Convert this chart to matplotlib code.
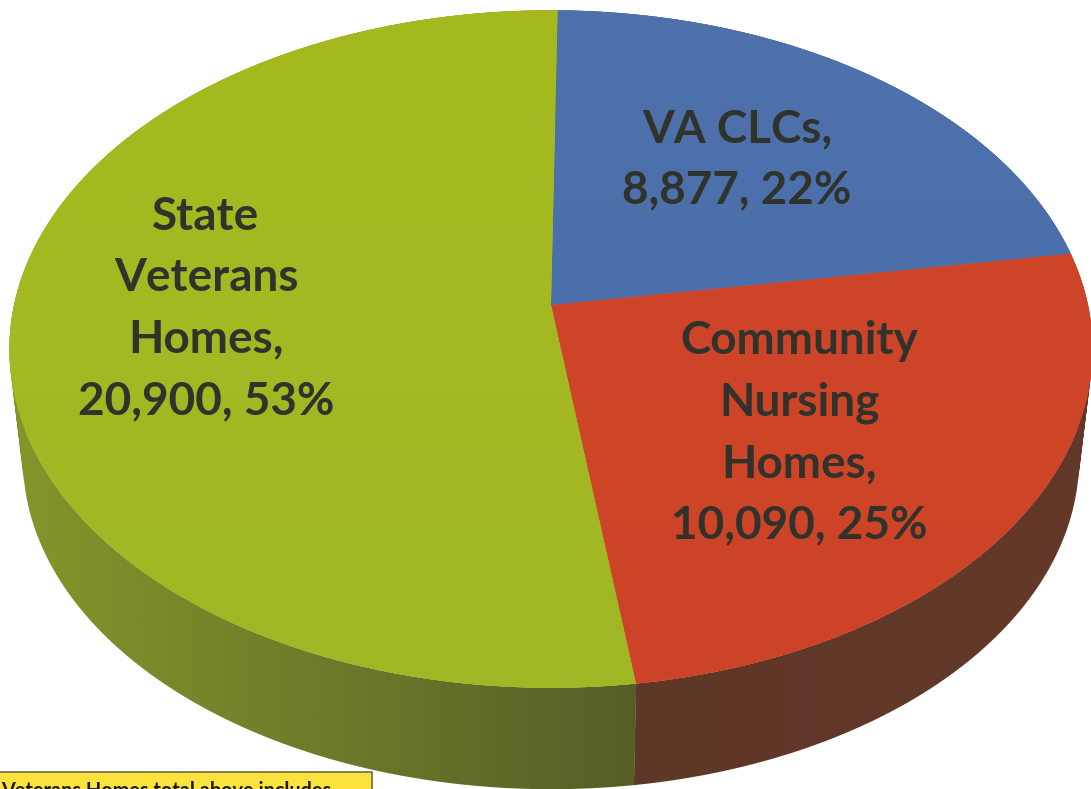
import numpy as np
import matplotlib
matplotlib.use("Agg")
import matplotlib.pyplot as plt
from matplotlib.path import Path
from matplotlib.patches import Rectangle, PathPatch
from matplotlib.transforms import Transform, Affine2D

categories = ["VA CLCs", "Community\nNursing\nHomes", "State\nVeterans\nHomes"]
counts = [8877, 10090, 20900]
percents = [22, 25, 53]
top_colors = ["#4a6ca8", "#cf4529", "#a2b620"]
note_text = "Veterans Homes total above includes"

W, H = 1091, 789
CX, CY = 551, 305          # apex in pixels
A, B, K = 537.0, 333.0, 0.13
S, DY = 0.975, 111.0       # bottom rim


def project(xy, scale=1.0, dy=0.0):
    x, y = xy[:, 0], xy[:, 1]
    d = 1 + K * y
    return np.column_stack([CX + scale * A * x / d, CY + dy - scale * B * y / d])


class Tilt(Transform):
    input_dims = output_dims = 2
    has_inverse = False

    def transform_non_affine(self, values):
        return project(np.asarray(values, float))

    def transform_path_non_affine(self, path):
        big = path.transformed(Affine2D().scale(3000))
        polys = big.to_polygons(closed_only=True)
        return Path(self.transform_non_affine(polys[0] / 3000), closed=True)


fig = plt.figure(figsize=(W / 100, H / 100), dpi=100, facecolor="white")
ax = fig.add_axes([0, 0, 1, 1])
wedges, _ = ax.pie(counts, startangle=89.2, counterclock=False, colors=top_colors,
                   wedgeprops=dict(linewidth=0))
ax.set_aspect("auto")
ax.set_xlim(0, W)
ax.set_ylim(H, 0)
ax.axis("off")

tilt = Tilt() + ax.transData


def lerp_hex(c0, c1, t):
    a = np.array(matplotlib.colors.to_rgb(c0))
    b = np.array(matplotlib.colors.to_rgb(c1))
    return a + (b - a) * t


def side_color(w_index, px):
    if w_index == 2:
        t = np.clip((px - 10) / (637 - 10), 0, 1)
        if t < 0.5:
            return lerp_hex("#84962a", "#6f7a2a", t / 0.5)
        return lerp_hex("#6f7a2a", "#565d27", (t - 0.5) / 0.5)
    if w_index == 1:
        return lerp_hex("#5f3727", "#64392a", np.clip((px - 637) / 450, 0, 1))
    return np.array(matplotlib.colors.to_rgb("#3d5585"))


# side wall: one band per slice, swept from the top rim to the bottom rim
px_axis = np.arange(W) + 0.5
for i, w in enumerate(wedges):
    th = np.radians(np.arange(w.theta1, w.theta2 + 0.25, 0.25))
    unit = np.column_stack([np.cos(th), np.sin(th)])
    up, lo = project(unit), project(unit, S, DY)
    verts, codes = [], []
    for j in range(len(th) - 1):
        q = np.array([up[j], up[j + 1], lo[j + 1], lo[j]])
        area = np.sum(q[:, 0] * np.roll(q[:, 1], -1) - np.roll(q[:, 0], -1) * q[:, 1])
        if area < 0:
            q = q[::-1]
        verts.extend([*q, q[0]])
        codes.extend([Path.MOVETO, Path.LINETO, Path.LINETO, Path.LINETO, Path.CLOSEPOLY])
    band = PathPatch(Path(verts, codes), facecolor="none", edgecolor="none", zorder=1)
    ax.add_patch(band)
    rgb = np.array([side_color(i, p) for p in px_axis])[None, :, :]
    im = ax.imshow(rgb, extent=(0, W, H, 0), aspect="auto", zorder=1, interpolation="bilinear")
    im.set_clip_path(band)

# top face
for w in wedges:
    w.set_transform(tilt)
    w.set_zorder(2)

# soft shading on the top face
grad_specs = [("#4f72ad", "#446aa5", 0), ("#d04629", "#cc4327", 1), ("#a6ba1f", "#a0b626", 2)]
for c0, c1, idx in grad_specs:
    g = np.linspace(0, 1, 256)
    rgb = np.array([lerp_hex(c0, c1, t) for t in g])[:, None, :]
    im = ax.imshow(rgb, extent=(0, W, H, 0), aspect="auto", zorder=3, interpolation="bilinear")
    im.set_clip_path(wedges[idx])
ax.set_xlim(0, W)
ax.set_ylim(H, 0)

# labels
font = dict(family="Lato", fontweight="bold", fontsize=33, color="#30322c",
            ha="center", va="center", linespacing=1.57, zorder=5)
label_pos = [(737, 160), (799, 433), (206, 309)]
for cat, n, p, (x, y) in zip(categories, counts, percents, label_pos):
    ax.text(x, y, f"{cat},\n{n:,}, {p}%", **font)

# cut-off note box
ax.add_patch(Rectangle((-2, 772), 374, 30, facecolor="#fbe23c", edgecolor="#6f6a45",
                       linewidth=1.2, zorder=4))
ax.text(1, 797, note_text, fontsize=14.3, fontweight="bold", family="Lato",
        color="#1c1a10", ha="left", va="baseline", zorder=5, clip_on=True)

fig.savefig("out.png", dpi=100, facecolor="white")
